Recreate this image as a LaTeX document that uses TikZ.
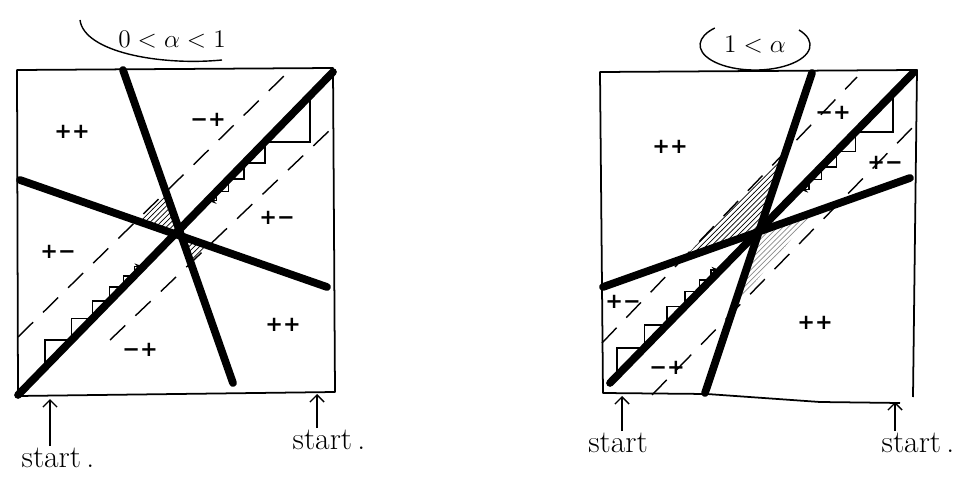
\documentclass[tikz,border=0pt]{standalone}
\usepackage{amsmath,amssymb}
\usepackage{fontspec}
\newfontfamily\signfont{DejaVu Sans}
\usepackage{tikz}
\usetikzlibrary{arrows.meta,patterns,calc}

\begin{document}
\begin{tikzpicture}[
        x=0.02cm, y=-0.02cm,
        frame/.style={line width=1pt, line join=round},
        cut/.style={line width=4.4pt, line cap=round},
        guide/.style={line width=0.8pt, dash pattern=on 12pt off 8pt},
        stair/.style={line width=0.9pt, -{Stealth[length=5pt]}},
        shade/.style={pattern=north east lines},
        lightshade/.style={pattern=north east lines, pattern color=black!45},
        sign/.style={font=\signfont\bfseries\large, inner sep=1pt},
        cond/.style={font=\fontsize{15}{17}\selectfont, inner sep=1pt},
        startlbl/.style={font=\fontsize{18}{20}\selectfont, inner sep=1pt},
        up/.style={line width=0.8pt, -{Straight Barb[length=4pt]}}
    ]
        \useasboundingbox (0,0) rectangle (968,483);

        % Left panel: 0 < alpha < 1
        \fill[shade] (137,222) -- (166,192) -- (179,230) -- cycle;
        \fill[shade] (179,230) -- (208,246) -- (191,263) -- cycle;
        \draw[guide] (18,337) -- (287,73);
        \draw[guide] (110,340) -- (330,130);
        \draw[stair] (45,367) -- (45,340) -- (71.3,340) -- (71.3,318.7) -- (92.5,318.7) -- (92.5,301.2)
            -- (109.6,301.2) -- (109.6,287.1) -- (123.4,287.1) -- (123.4,275.8) -- (134.4,275.8)
            -- (134.4,266.7) -- (143.3,266.7);
        \draw[stair] (310,95.7) -- (310,142) -- (264.8,142) -- (264.8,163.2) -- (244.1,163.2) -- (244.1,179.2)
            -- (228.5,179.2) -- (228.5,191.3) -- (216.7,191.3) -- (216.7,200.5) -- (207.7,200.5);
        \draw[cut] (18,395) -- (333,72);
        \draw[cut] (123,70) -- (233,383);
        \draw[cut] (20,180) -- (327,287);
        \draw[frame] (17,70) -- (333,68) -- (335,392) -- (18,396) -- cycle;

        \node[cond] (condA) at (172,40) {$0<\alpha<1$};
        \draw[line width=0.8pt] (80,20) .. controls (84,52) and (160,66) .. (222,60);

        \node[sign] (sgnA1) at (72,132) {++};
        \node[sign] (sgnA2) at (208,120) {−+};
        \node[sign] (sgnA3) at (277,218) {+−};
        \node[sign] (sgnA4) at (58,252) {+−};
        \node[sign] (sgnA5) at (283,325) {++};
        \node[sign] (sgnA6) at (140,350) {−+};

        % Right panel: 1 < alpha
        \fill[shade] (683,259) -- (786,151) -- (759,230) -- cycle;
        \fill[lightshade] (759,230) -- (815,211) -- (740,300) -- cycle;
        \draw[guide] (602,343) -- (857,77);
        \draw[guide] (652,395) -- (913,127);
        \draw[stair] (617,375.8) -- (617,347.8) -- (644.4,347.8) -- (644.4,324.9) -- (666.8,324.9) -- (666.8,306.5)
            -- (684.8,306.5) -- (684.8,291.7) -- (699.3,291.7) -- (699.3,279.8) -- (710.9,279.8)
            -- (710.9,270.2) -- (720.3,270.2);
        \draw[stair] (893,93.5) -- (893,132) -- (855.4,132) -- (855.4,151.3) -- (836.5,151.3) -- (836.5,166.8)
            -- (821.4,166.8) -- (821.4,179.3) -- (809.2,179.3) -- (809.2,189.3) -- (799.4,189.3);
        \draw[cut] (610,383) -- (913,73);
        \draw[cut] (705,393) -- (812,73);
        \draw[cut] (603,287) -- (910,178);
        \draw[frame] (900,403) -- (820,402) -- (707,394) -- (603,393) -- (600,72) -- (917,70) -- (913,397);

        \node[cond] (condB) at (755,45) {$1<\alpha$};
        \draw[line width=0.8pt] (799,30) arc[start angle=-37, end angle=223, x radius=55, y radius=25];

        \node[sign] (sgnB1) at (670,147) {++};
        \node[sign] (sgnB2) at (833,113) {−+};
        \node[sign] (sgnB3) at (885,163) {+−};
        \node[sign] (sgnB4) at (623,302) {+−};
        \node[sign] (sgnB5) at (815,323) {++};
        \node[sign] (sgnB6) at (667,368) {−+};

        % start markers
        \coordinate (ptA) at (50,399);
        \coordinate (ptB) at (317,394);
        \coordinate (ptC) at (622,396);
        \coordinate (ptD) at (895,402);
        \node[startlbl] (stA) at (58,458) {start\,.};
        \node[startlbl] (stB) at (329,440) {start\,.};
        \node[startlbl] (stC) at (618,443) {start};
        \node[startlbl] (stD) at (918,443) {start\,.};
        \draw[up] (stA.north -| ptA) -- (ptA);
        \draw[up] (stB.north -| ptB) -- (ptB);
        \draw[up] (stC.north -| ptC) -- (ptC);
        \draw[up] (stD.north -| ptD) -- (ptD);
    \end{tikzpicture}
\end{document}
